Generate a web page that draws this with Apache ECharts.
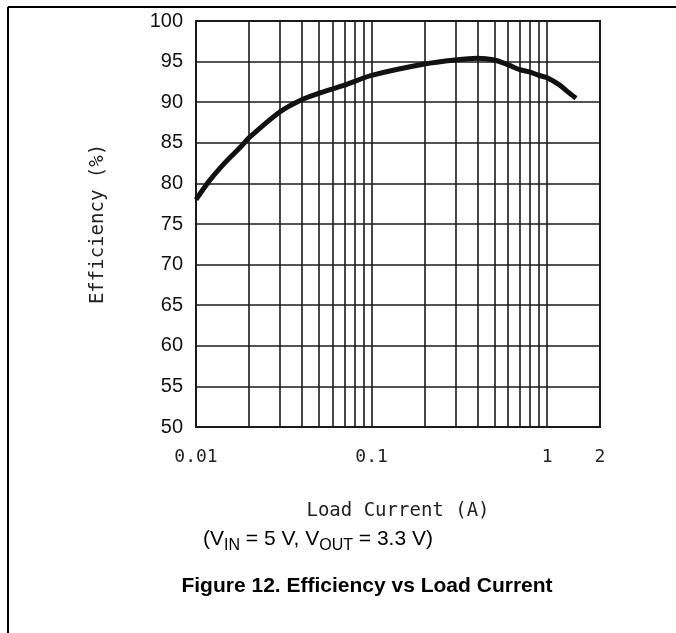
<!DOCTYPE html>
<html>
<head>
<meta charset="utf-8">
<script src="https://cdn.jsdelivr.net/npm/echarts@6/dist/echarts.min.js"></script>
<style>
  html, body { margin: 0; padding: 0; background: #fff; }
  #chart { width: 676px; height: 633px; }
</style>
</head>
<body>
<div id="chart"></div>
<script>
// load current (A) and efficiency (%)
const loadCurrent = [0.01, 0.012, 0.015, 0.018, 0.02, 0.03, 0.04, 0.05, 0.07, 0.1, 0.2, 0.3, 0.4, 0.5, 0.6, 0.7, 0.8, 0.9, 1.0, 1.18, 1.29, 1.46]
const efficiency = [78.0, 80.4, 82.8, 84.5, 85.6, 88.8, 90.3, 91.1, 92.1, 93.3, 94.7, 95.2, 95.4, 95.2, 94.6, 94.0, 93.7, 93.3, 93.0, 92.1, 91.4, 90.5]

// minor vertical gridlines of the log axis
const minorGridX = [0.02, 0.03, 0.04, 0.05, 0.06, 0.07, 0.08, 0.09,
  0.2, 0.3, 0.4, 0.5, 0.6, 0.7, 0.8, 0.9]

const xMin = 0.01
const xMax = 2
const yMin = 50
const yMax = 100
const yStep = 5

const chart = echarts.init(document.getElementById('chart'))

const ink = '#1a1a1a'
const monoFont = '"DejaVu Sans Mono", monospace'

const option = {
  animation: false,
  backgroundColor: '#fff',
  title: [
    {
      text: '{n|(V}{s|IN}{n| = 5 V, V}{s|OUT}{n| = 3.3 V)}',
      left: 203,
      top: 529,
      padding: 0,
      textStyle: {
        fontWeight: 'normal',
        rich: {
          n: { fontFamily: 'Liberation Sans', fontSize: 21, fontWeight: 'normal', color: '#000', verticalAlign: 'bottom' },
          s: { fontFamily: 'Liberation Sans', fontSize: 16, fontWeight: 'normal', color: '#000', verticalAlign: 'bottom', padding: [0, 0, -4, 0] }
        }
      }
    },
    {
      text: 'Figure 12. Efficiency vs Load Current',
      left: 367,
      textAlign: 'center',
      top: 576,
      padding: 0,
      textStyle: { fontFamily: 'Liberation Sans', fontSize: 21, fontWeight: 'bold', color: '#000' }
    }
  ],
  graphic: [
    { type: 'line', shape: { x1: 8, y1: 7, x2: 676, y2: 7 }, style: { stroke: '#000', lineWidth: 2 } },
    { type: 'line', shape: { x1: 8, y1: 7, x2: 8, y2: 633 }, style: { stroke: '#000', lineWidth: 2 } }
  ],
  grid: {
    left: 196,
    top: 21,
    right: 76,
    bottom: 206,
    show: true,
    borderColor: ink,
    borderWidth: 2
  },
  xAxis: {
    type: 'log',
    min: xMin,
    max: xMax,
    logBase: 10,
    name: 'Load Current (A)',
    nameLocation: 'middle',
    nameGap: 75,
    nameTextStyle: { fontFamily: monoFont, fontSize: 19, color: '#222' },
    axisLine: { show: true, lineStyle: { color: ink, width: 2 } },
    axisTick: { show: false },
    axisLabel: {
      margin: 21,
      fontFamily: monoFont,
      fontSize: 18,
      color: '#222',
      showMaxLabel: true,
      formatter: v => String(+v.toPrecision(3))
    },
    splitLine: { show: true, lineStyle: { color: ink, width: 1.6 } }
  },
  yAxis: {
    type: 'value',
    min: yMin,
    max: yMax,
    interval: yStep,
    name: 'Efficiency (%)',
    nameLocation: 'middle',
    nameGap: 88,
    nameTextStyle: { fontFamily: monoFont, fontSize: 19, color: '#222' },
    axisLine: { show: true, lineStyle: { color: ink, width: 2 } },
    axisTick: { show: false },
    axisLabel: { margin: 13, fontFamily: 'Liberation Sans', fontSize: 20, color: '#111' },
    splitLine: { show: true, lineStyle: { color: ink, width: 1.6 } }
  },
  series: [
    {
      type: 'line',
      data: loadCurrent.map((x, i) => [x, efficiency[i]]),
      smooth: 0.3,
      showSymbol: false,
      lineStyle: { color: '#111', width: 5 },
      markLine: {
        silent: true,
        symbol: 'none',
        label: { show: false },
        lineStyle: { color: ink, width: 1.6, type: 'solid' },
        data: minorGridX.map(v => ({ xAxis: v }))
      },
      z: 5
    }
  ]
}

chart.setOption(option)
</script>
</body>
</html>
